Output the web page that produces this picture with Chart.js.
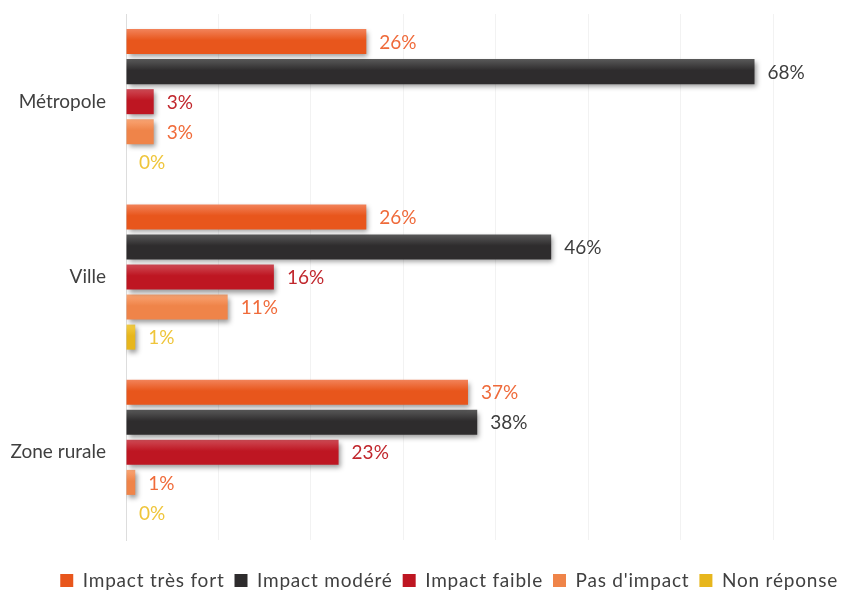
<!DOCTYPE html>
<html lang="fr">
<head>
<meta charset="utf-8">
<title>Impact par zone</title>
<script src="https://cdn.jsdelivr.net/npm/chart.js@4/dist/chart.umd.min.js"></script>
<style>
  html, body { margin: 0; padding: 0; background: #ffffff; }
  #wrap { width: 841px; height: 592px; position: relative; }
</style>
</head>
<body>
<div id="wrap"><canvas id="chart" width="841" height="592"></canvas></div>
<script>
// Categories (y axis) and series values, in percent
const categories = ['Métropole', 'Ville', 'Zone rurale'];
const seriesNames = ['Impact très fort', 'Impact modéré', 'Impact faible', "Pas d'impact", 'Non réponse'];
const impactTresFort = [26, 26, 37];
const impactModere   = [68, 46, 38];
const impactFaible   = [3, 16, 23];
const pasDImpact     = [3, 11, 1];
const nonReponse     = [0, 1, 0];
const xTicks = [0, 10, 20, 30, 40, 50, 60, 70];

// Bar fills: [top colour, bottom colour], plus the value-label colour
const palette = [
  { top: '#F2835A', bottom: '#E8561C', label: '#EF6A3A' },
  { top: '#595959', bottom: '#2E2C2D', label: '#3D3D3D' },
  { top: '#CF4A55', bottom: '#BE1622', label: '#C1272D' },
  { top: '#FAA574', bottom: '#EF8449', label: '#F06B3A' },
  { top: '#F3CD45', bottom: '#E7B61D', label: '#EFC53A' }
];

const CAT_PCT = 0.857;
const BAR_PCT = 0.833;
const FONT = 'Lato, "Open Sans", sans-serif';

const seriesValues = [impactTresFort, impactModere, impactFaible, pasDImpact, nonReponse];

// Vertical gradient for each bar, computed from the category scale
function barFill(i) {
  return (ctx) => {
    const chart = ctx.chart;
    const p = palette[i];
    if (ctx.type !== 'data' || !chart.chartArea || !chart.scales.y) return p.bottom;
    const y = chart.scales.y;
    const band = Math.abs(y.getPixelForValue(1) - y.getPixelForValue(0)) || (chart.chartArea.height / categories.length);
    const slot = band * CAT_PCT / seriesValues.length;
    const center = y.getPixelForValue(ctx.dataIndex) + (i - (seriesValues.length - 1) / 2) * slot;
    const h = slot * BAR_PCT;
    if (!isFinite(center) || !isFinite(h)) return p.bottom;
    const g = chart.ctx.createLinearGradient(0, center - h / 2, 0, center + h / 2);
    g.addColorStop(0, p.top);
    g.addColorStop(0.45, p.bottom);
    g.addColorStop(1, p.bottom);
    return g;
  };
}

const datasets = seriesValues.map((vals, i) => ({
  label: seriesNames[i],
  data: vals,
  backgroundColor: barFill(i),
  borderWidth: 0,
  categoryPercentage: CAT_PCT,
  barPercentage: BAR_PCT
}));

// Soft drop shadow under the bars
const barShadow = {
  id: 'barShadow',
  beforeDatasetsDraw(chart) {
    const c = chart.ctx;
    c.save();
    c.shadowColor = 'rgba(0,0,0,0.4)';
    c.shadowBlur = 5;
    c.shadowOffsetX = 2;
    c.shadowOffsetY = 3;
  },
  afterDatasetsDraw(chart) {
    chart.ctx.restore();
  }
};

// Percentage labels to the right of each bar
const valueLabels = {
  id: 'valueLabels',
  afterDatasetsDraw(chart) {
    const c = chart.ctx;
    c.save();
    c.font = '19px ' + FONT;
    c.textAlign = 'left';
    c.textBaseline = 'middle';
    chart.data.datasets.forEach((ds, i) => {
      const meta = chart.getDatasetMeta(i);
      meta.data.forEach((el, j) => {
        c.fillStyle = palette[i].label;
        c.fillText(ds.data[j] + '%', el.x + 13, el.y + 1);
      });
    });
    c.restore();
  }
};

// Slightly spaced-out lettering for the legend
const legendSpacing = {
  id: 'legendSpacing',
  beforeUpdate(chart) {
    const lg = chart.legend;
    if (!lg || lg._spaced) return;
    lg._spaced = true;
    const wrap = (fn) => function (...args) {
      const c = this.ctx;
      c.save();
      c.letterSpacing = '0.8px';
      const r = fn.apply(this, args);
      c.restore();
      return r;
    };
    lg.fit = wrap(lg.fit);
    lg.draw = wrap(lg.draw);
  }
};

// Legend swatches with a flat colour
function legendLabels(chart) {
  return chart.data.datasets.map((ds, i) => ({
    text: ds.label,
    fillStyle: palette[i].bottom,
    strokeStyle: palette[i].bottom,
    lineWidth: 0,
    fontColor: '#404040',
    hidden: !chart.isDatasetVisible(i),
    datasetIndex: i
  }));
}

new Chart(document.getElementById('chart'), {
  type: 'bar',
  data: { labels: categories, datasets },
  options: {
    indexAxis: 'y',
    responsive: false,
    animation: false,
    devicePixelRatio: 1,
    layout: { padding: { left: 0, right: -7, top: 14, bottom: -8 } },
    scales: {
      x: {
        min: xTicks[0],
        max: xTicks[xTicks.length - 1],
        afterBuildTicks: (s) => { s.ticks = xTicks.map(v => ({ value: v })); },
        ticks: { display: false },
        grid: { color: '#F2F2F2', lineWidth: 1, drawTicks: false },
        border: { display: false },
        afterFit: (s) => { s.height = 21; s.paddingLeft = 0; s.paddingRight = 68; }
      },
      y: {
        ticks: { color: '#404040', font: { family: FONT, size: 19 }, padding: 20 },
        grid: { display: false, drawTicks: false },
        border: { display: true, color: '#DDDDDD' },
        afterFit: (s) => { s.width = 126; s.paddingTop = 0; s.paddingBottom = 0; }
      }
    },
    plugins: {
      legend: {
        position: 'bottom',
        align: 'end',
        labels: {
          boxWidth: 13,
          boxHeight: 13,
          padding: 10,
          color: '#404040',
          font: { family: FONT, size: 19 },
          generateLabels: legendLabels
        }
      },
      tooltip: { enabled: false }
    }
  },
  plugins: [legendSpacing, barShadow, valueLabels]
});
</script>
</body>
</html>
